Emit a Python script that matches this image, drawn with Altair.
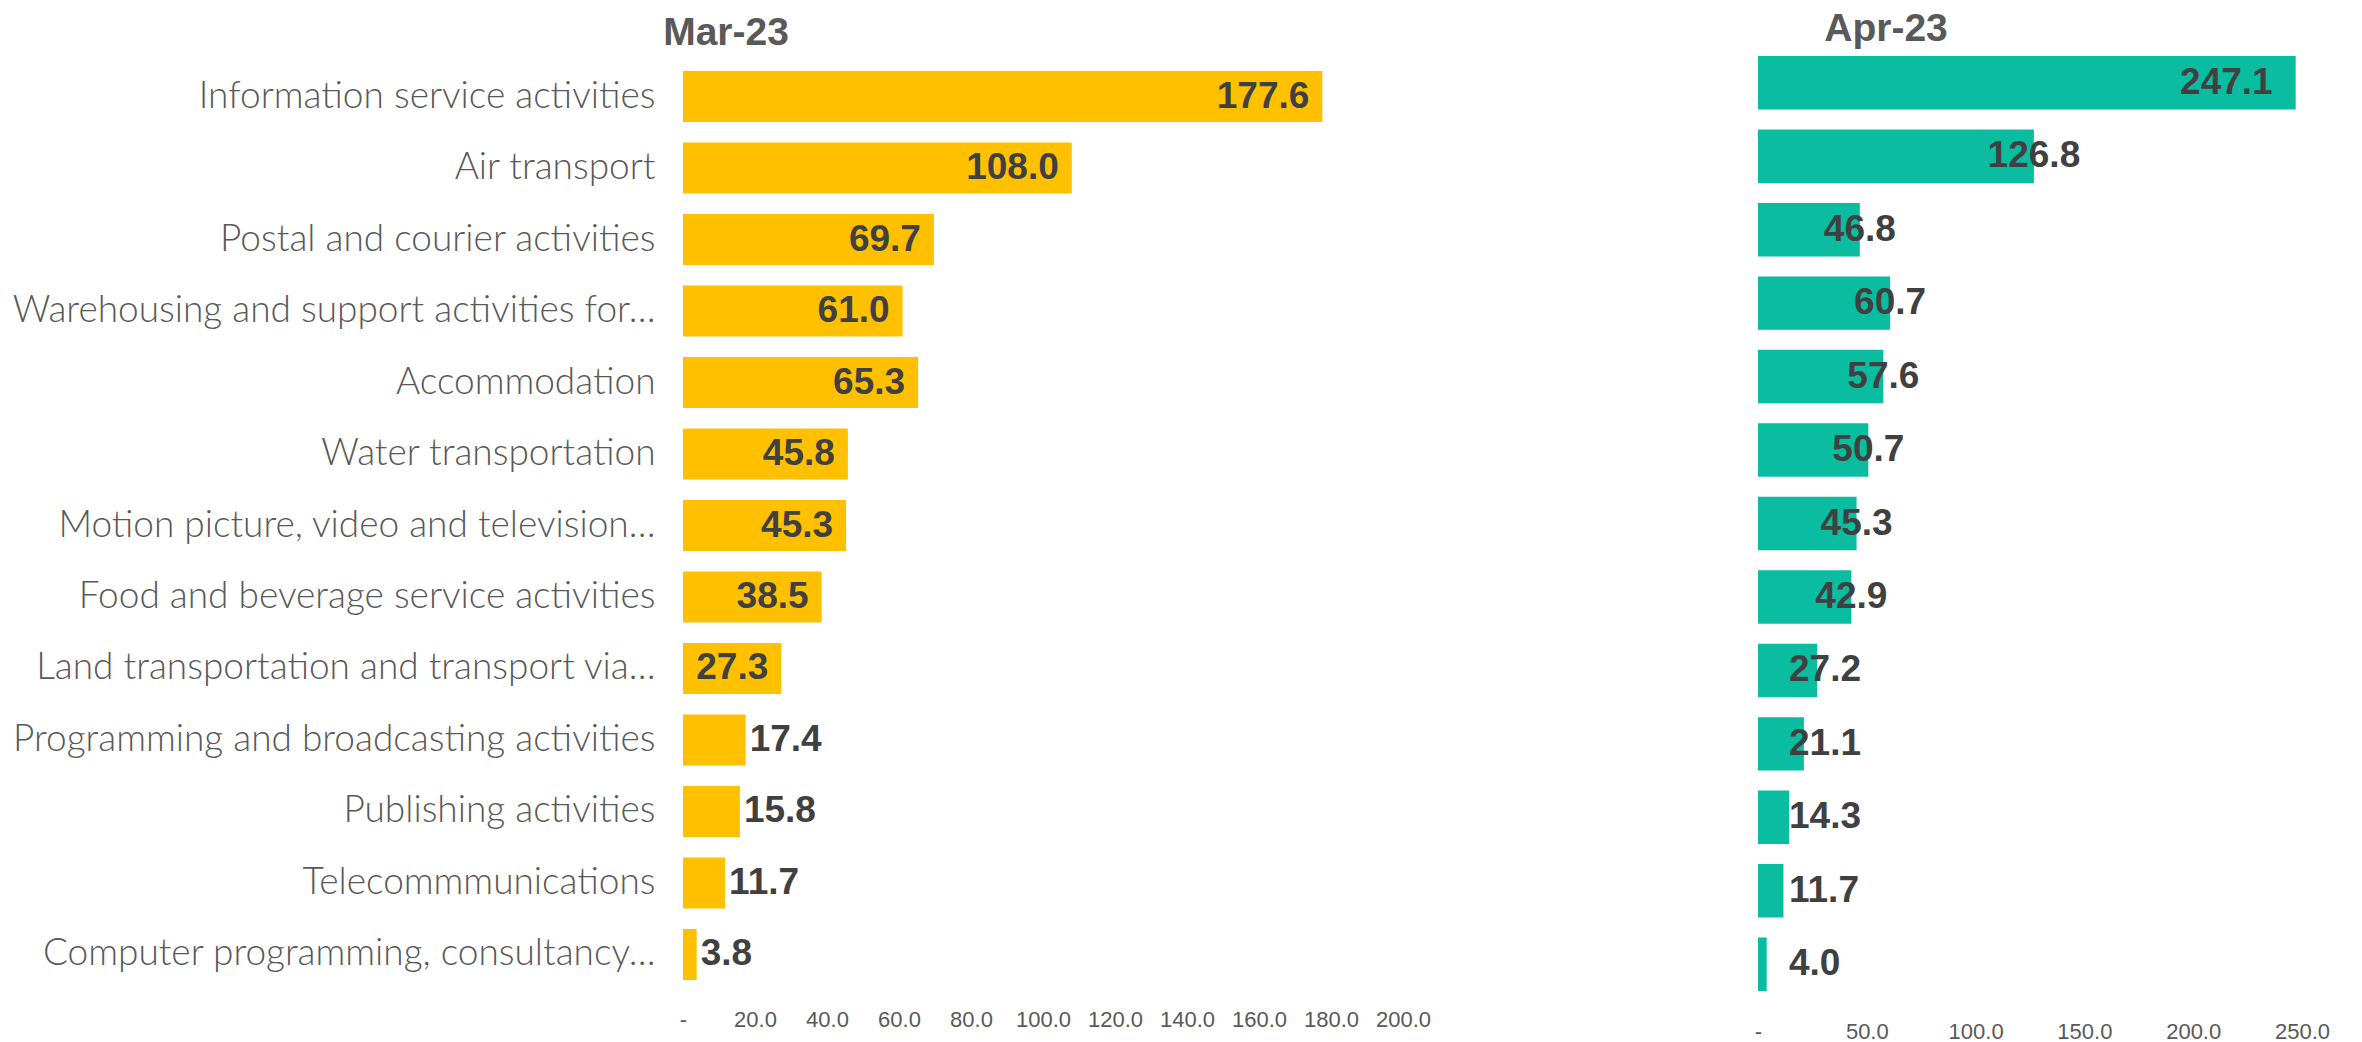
import altair as alt
import pandas as pd

categories = [
    "Information service activities",
    "Air transport",
    "Postal and courier activities",
    "Warehousing and support activities for…",
    "Accommodation",
    "Water transportation",
    "Motion picture, video and television…",
    "Food and beverage service activities",
    "Land transportation and transport via…",
    "Programming and broadcasting activities",
    "Publishing activities",
    "Telecommmunications",
    "Computer programming, consultancy…",
]
mar_values = [177.6, 108.0, 69.7, 61.0, 65.3, 45.8, 45.3, 38.5, 27.3, 17.4, 15.8, 11.7, 3.8]
apr_values = [247.1, 126.8, 46.8, 60.7, 57.6, 50.7, 45.3, 42.9, 27.2, 21.1, 14.3, 11.7, 4.0]
mar_ticks = [0, 20, 40, 60, 80, 100, 120, 140, 160, 180, 200]
apr_ticks = [0, 50, 100, 150, 200, 250]
titles = ["Mar-23", "Apr-23"]

YELLOW = "#FFC000"
TEAL = "#0ABCA0"
LABEL_FONT = "Lato"
NUM_FONT = "Liberation Sans"
TICK_EXPR = "datum.value == 0 ? '-' : format(datum.value, '.1f')"

mar_df = pd.DataFrame({"category": categories, "value": mar_values})
apr_df = pd.DataFrame({"category": categories, "value": apr_values})

text_style = dict(baseline="middle", font=NUM_FONT, fontWeight="bold",
                  fontSize=37, color="#404040")


def x_enc(domain_max, ticks, label_pad):
    return alt.X(
        "value:Q",
        title=None,
        scale=alt.Scale(domain=[0, domain_max], nice=False, zero=True),
        axis=alt.Axis(values=ticks, labelExpr=TICK_EXPR, grid=False, domain=False,
                      ticks=False, labelFont=NUM_FONT, labelFontSize=22,
                      labelColor="#595959", labelPadding=label_pad,
                      labelOverlap=False, labelFlush=False),
    )


# ---- March panel ----
y_left = alt.Y(
    "category:N", sort=categories, title=None,
    scale=alt.Scale(paddingInner=0.287, paddingOuter=0.35),
    axis=alt.Axis(labelFont=LABEL_FONT, labelFontWeight=300, labelFontSize=37,
                  labelColor="#595959", labelPadding=28, ticks=False,
                  domain=False, labelLimit=900),
)
base_l = alt.Chart(mar_df).encode(y=y_left, x=x_enc(200, mar_ticks, 4))
bars_l = base_l.mark_bar(color=YELLOW)
txt_l_in = base_l.transform_filter("datum.value >= 25").mark_text(
    align="right", dx=-13, **text_style).encode(text=alt.Text("value:Q", format=".1f"))
txt_l_out = base_l.transform_filter("datum.value < 25").mark_text(
    align="left", dx=4, **text_style).encode(text=alt.Text("value:Q", format=".1f"))
left = alt.layer(bars_l, txt_l_in, txt_l_out).properties(
    width=720, height=959,
    title=alt.TitleParams(titles[0], anchor="start", align="center", frame="group",
                          dx=43, font=NUM_FONT, fontSize=39, fontWeight="bold",
                          color="#595959", offset=-7),
)

# ---- April panel ----
y_right = alt.Y(
    "category:N", sort=categories, title=None,
    scale=alt.Scale(paddingInner=0.272, paddingOuter=0.136),
    axis=None,
)
base_r = alt.Chart(apr_df).encode(y=y_right, x=x_enc(250, apr_ticks, 20))
bars_r = base_r.mark_bar(color=TEAL)
txt_r_in = base_r.transform_filter("datum.value >= 200").mark_text(
    align="right", dx=-23, **text_style).encode(text=alt.Text("value:Q", format=".1f"))
txt_r_mid = base_r.transform_filter("datum.value >= 30 && datum.value < 200").mark_text(
    align="center", **text_style).encode(text=alt.Text("value:Q", format=".1f"))
txt_r_low = base_r.transform_filter("datum.value < 30").mark_text(
    align="left", dx=31, **text_style).encode(
    x=alt.datum(0), text=alt.Text("value:Q", format=".1f"))
right = alt.layer(bars_r, txt_r_in, txt_r_mid, txt_r_low).properties(
    width=544, height=955,
    title=alt.TitleParams(titles[1], anchor="start", align="center", frame="group",
                          dx=128, font=NUM_FONT, fontSize=39, fontWeight="bold",
                          color="#595959", offset=-3),
)

chart = alt.hconcat(left, right, spacing=355, bounds="flush").properties(
    padding={"left": 4, "top": 2, "right": 0, "bottom": 0}
).configure_view(stroke=None)

chart.save("out.html", embed_options={"renderer": "svg", "actions": False})
